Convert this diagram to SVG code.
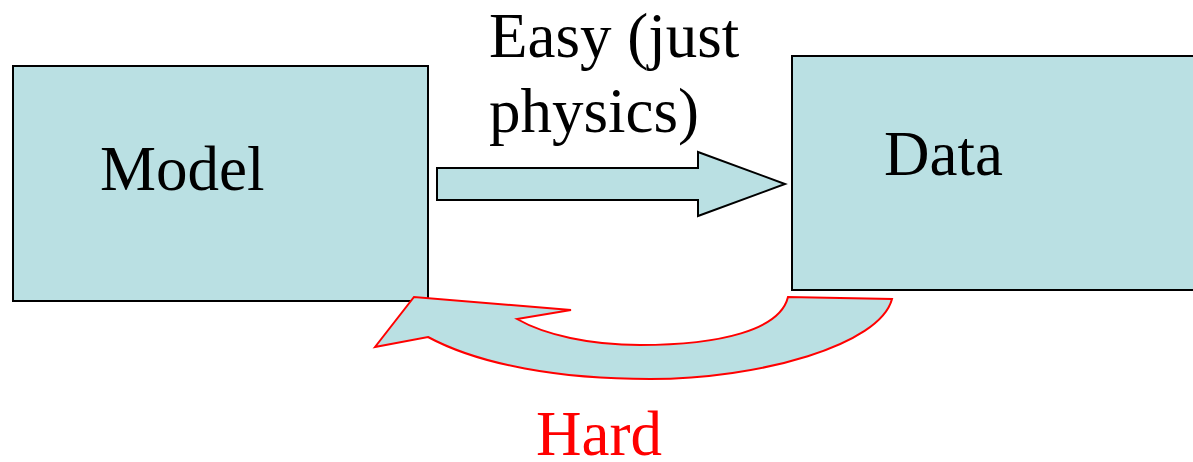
<svg xmlns="http://www.w3.org/2000/svg" width="1193" height="462" viewBox="0 0 1193 462">
<style>
.box{fill:#BAE0E3;stroke:#000;stroke-width:2}
.lbl{font-family:"Liberation Serif","Times New Roman",serif;font-size:63px;fill:#000}
.red{fill:#FF0000}
</style>
<rect width="1193" height="462" fill="#fff"/>
<g id="model">
<rect class="box" x="13" y="66" width="415" height="235"/>
<text class="lbl" x="100" y="190">Model</text>
</g>
<g id="data">
<rect class="box" x="792" y="56" width="420" height="234"/>
<text class="lbl" x="884" y="175">Data</text>
</g>
<g id="connectors">
<path d="M437 168 L698 168 L698 152 L785 184 L698 216 L698 200 L437 200 Z" fill="#BAE0E3" stroke="#000" stroke-width="2"/>
<path d="M375 347 L414 297 L571 310 L517 319 C545 335 590 345 640 345 C720 345 780 330 788 297 L892 299 C880 345 760 379 650 379 C560 379 480 365 428 337 Z" fill="#BAE0E3" stroke="#FF0000" stroke-width="2" stroke-linejoin="miter"/>
<text class="lbl" x="489" y="57">Easy (just</text>
<text class="lbl" x="489" y="132">physics)</text>
<text class="lbl red" x="536" y="455">Hard</text>
</g>
</svg>
